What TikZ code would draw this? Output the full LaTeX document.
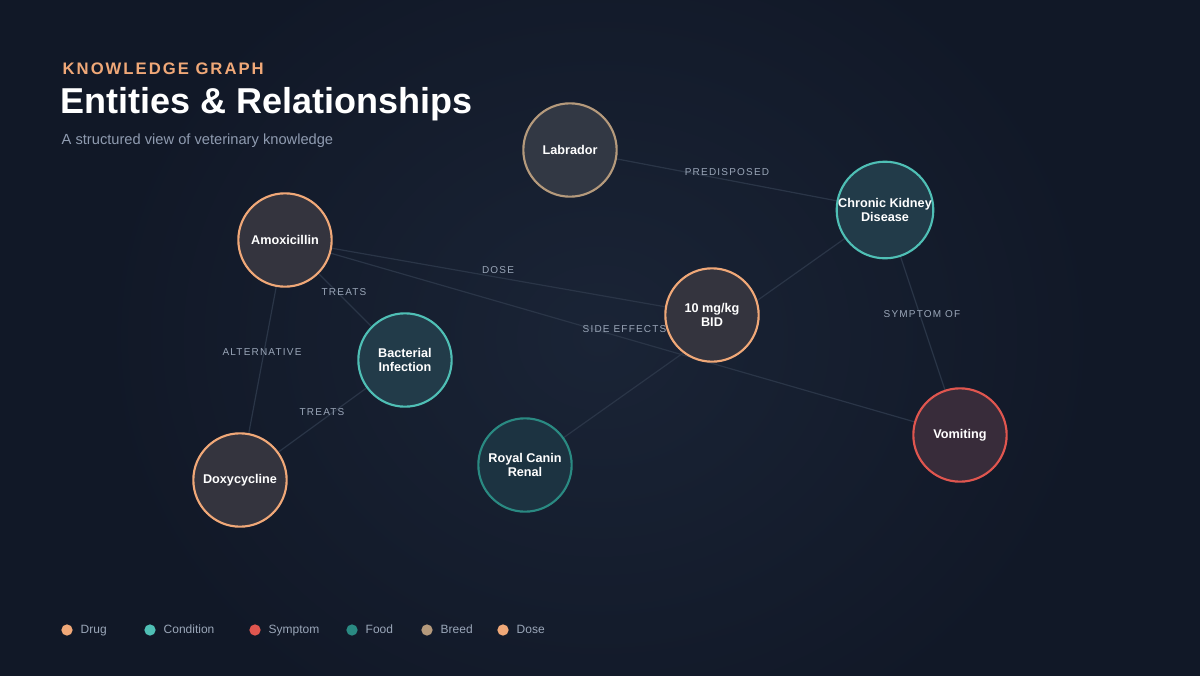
\documentclass[tikz,border=0pt]{standalone}
\usepackage{fontspec}
\setmainfont{Liberation Sans}
\newfontfamily\spaced[LetterSpace=12]{Liberation Sans}
\definecolor{bgdark}{HTML}{111827}
\definecolor{bgmid}{HTML}{1A2436}
\definecolor{edgecol}{HTML}{2A3547}
\definecolor{labcol}{HTML}{9AA6B8}
\definecolor{drugcol}{HTML}{F0A878}
\definecolor{condcol}{HTML}{4FBFB5}
\definecolor{sympcol}{HTML}{E0564F}
\definecolor{foodcol}{HTML}{2A8A82}
\definecolor{breedcol}{HTML}{B59A7C}
\definecolor{subcol}{HTML}{8F9BB0}
\tikzset{
  entity/.style={circle, line width=1.6pt, minimum size=70pt, inner sep=0pt,
    align=center, text=white, font=\bfseries\fontsize{9.5}{11}\selectfont},
  relation/.style={edgecol, line width=0.9pt},
  rellabel/.style={text=labcol, font=\spaced\fontsize{7.5}{9}\selectfont},
  legdot/.style={circle, inner sep=0pt, minimum size=8.5pt},
  legtext/.style={anchor=west, text=labcol, text height=7pt, text depth=2pt, font=\fontsize{9}{11}\selectfont}
}
\begin{document}
\begin{tikzpicture}[x=0.75pt, y=-0.75pt]
  \useasboundingbox (0,0) rectangle (1200,675);
  % background
  \fill[bgdark] (-10,-10) rectangle (1210,685);
  \shade[inner color=bgmid, outer color=bgdark] (100,-100) rectangle (1100,775);

  % header
  \node[anchor=west, text=drugcol, font=\spaced\bfseries\fontsize{12.5}{14}\selectfont] (kicker) at (58,69) {KNOWLEDGE GRAPH};
  \node[anchor=west, text=white, font=\bfseries\fontsize{27}{30}\selectfont] (title) at (56,104) {Entities \& Relationships};
  \node[anchor=west, text=subcol, font=\fontsize{11}{13}\selectfont] (subtitle) at (57,141) {A structured view of veterinary knowledge};

  % nodes
  \coordinate (labc) at (570,150);
  \coordinate (ckdc) at (885,210);
  \coordinate (amoxc) at (285,240);
  \coordinate (bactc) at (405,360);
  \coordinate (doxyc) at (240,480);
  \coordinate (royalc) at (525,465);
  \coordinate (dosec) at (712,315);
  \coordinate (vomc) at (960,435);

  % edges
  \draw[relation] (labc) -- (ckdc);
  \draw[relation] (amoxc) -- (dosec);
  \draw[relation] (amoxc) -- (vomc);
  \draw[relation] (amoxc) -- (bactc);
  \draw[relation] (amoxc) -- (doxyc);
  \draw[relation] (doxyc) -- (bactc);
  \draw[relation] (ckdc) -- (vomc);
  \draw[relation] (royalc) -- (ckdc);

  % edge labels
  \node[rellabel] (l1) at (727,172) {PREDISPOSED};
  \node[rellabel] (l2) at (498,270) {DOSE};
  \node[rellabel] (l3) at (344,292) {TREATS};
  \node[rellabel] (l4) at (262,352) {ALTERNATIVE};
  \node[rellabel] (l5) at (322,412) {TREATS};
  \node[rellabel, anchor=west] (l6) at (578,329) {SIDE EFFECTS};
  \node[rellabel] (l7) at (922,314) {SYMPTOM OF};

  \node[entity, draw=breedcol, fill=breedcol!10!bgmid!90!gray] (lab) at (labc) {Labrador};
  \node[entity, draw=condcol, fill=condcol!15!bgmid] (ckd) at (ckdc) {Chronic Kidney\\Disease};
  \node[entity, draw=drugcol, fill=drugcol!12!bgmid] (amox) at (amoxc) {Amoxicillin};
  \node[entity, draw=condcol, fill=condcol!15!bgmid] (bact) at (bactc) {Bacterial\\Infection};
  \node[entity, draw=drugcol, fill=drugcol!12!bgmid] (doxy) at (doxyc) {Doxycycline};
  \node[entity, draw=foodcol, fill=foodcol!15!bgmid] (royal) at (royalc) {Royal Canin\\Renal};
  \node[entity, draw=drugcol, fill=drugcol!12!bgmid] (dose) at (dosec) {10 mg/kg\\BID};
  \node[entity, draw=sympcol, fill=sympcol!15!bgmid] (vom) at (vomc) {Vomiting};

  % legend
  \node[legdot, fill=drugcol] (d1) at (67,630) {};
  \node[legtext] at (76,630) {Drug};
  \node[legdot, fill=condcol] (d2) at (150,630) {};
  \node[legtext] at (159,630) {Condition};
  \node[legdot, fill=sympcol] (d3) at (255,630) {};
  \node[legtext] at (264,630) {Symptom};
  \node[legdot, fill=foodcol] (d4) at (352,630) {};
  \node[legtext] at (361,630) {Food};
  \node[legdot, fill=breedcol] (d5) at (427,630) {};
  \node[legtext] at (436,630) {Breed};
  \node[legdot, fill=drugcol] (d6) at (503,630) {};
  \node[legtext] at (512,630) {Dose};
\end{tikzpicture}
\end{document}
